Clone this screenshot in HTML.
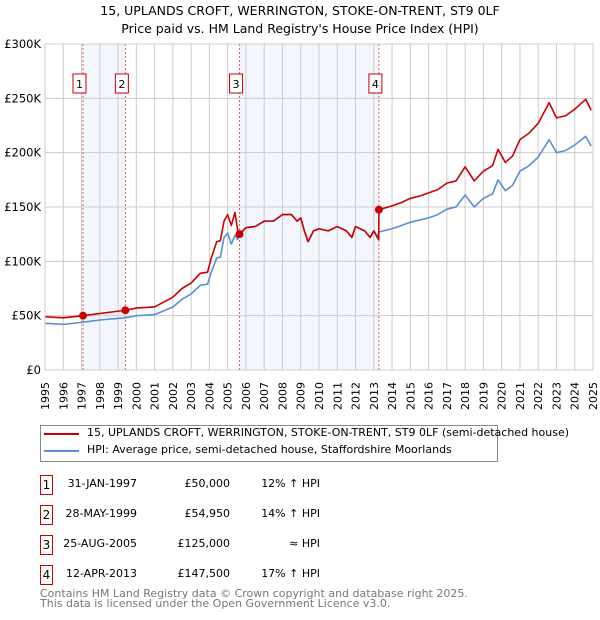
<!DOCTYPE html>
<html><head><meta charset="utf-8"><style>
body{margin:0;background:#fff;font-family:"DejaVu Sans","Liberation Sans",sans-serif;}
#wrap{position:relative;width:600px;height:620px;overflow:hidden;}
.t{position:absolute;font-size:12px;color:#000;white-space:nowrap;}
.box{position:absolute;width:11px;height:18px;border:1px solid #c00;font-size:12px;text-align:center;line-height:18px;}
</style></head><body><div id="wrap">
<div class="t" style="left:0;width:600px;text-align:center;top:2px;font-size:12.5px;line-height:18px">15, UPLANDS CROFT, WERRINGTON, STOKE-ON-TRENT, ST9 0LF<br>Price paid vs. HM Land Registry's House Price Index (HPI)</div>
<svg id="chart" width="600" height="415" style="position:absolute;left:0;top:0"></svg>
<div style="position:absolute;left:40px;top:425px;width:456px;height:35px;border:1px solid #888"></div>
<div style="position:absolute;left:44px;top:433px;width:35px;height:2px;background:#c00"></div>
<div class="t" style="left:87px;top:426px;font-size:11px">15, UPLANDS CROFT, WERRINGTON, STOKE-ON-TRENT, ST9 0LF (semi-detached house)</div>
<div style="position:absolute;left:44px;top:450px;width:35px;height:2px;background:#5b8fd6"></div>
<div class="t" style="left:87px;top:443px;font-size:11px">HPI: Average price, semi-detached house, Staffordshire Moorlands</div>
<div id="tbl"></div>
<div class="t" style="left:40px;top:589px;font-size:11px;color:#777;line-height:10px">Contains HM Land Registry data © Crown copyright and database right 2025.<br>This data is licensed under the Open Government Licence v3.0.</div>
</div>
<script>
const years=[1995,1996,1997.08,1998,1999.4,2000,2001,2002,2002.5,2003,2003.5,2003.9,2004.1,2004.4,2004.6,2004.8,2005.0,2005.2,2005.4,2005.55,2005.65,2006,2006.5,2007,2007.5,2008,2008.5,2008.8,2009,2009.2,2009.4,2009.7,2010,2010.5,2011,2011.5,2011.8,2012,2012.5,2012.8,2013,2013.2,2013.27,2013.28,2014,2014.5,2015,2015.5,2016,2016.5,2017,2017.5,2018,2018.5,2019,2019.5,2019.8,2020.2,2020.6,2021,2021.5,2022,2022.6,2023,2023.5,2024,2024.6,2024.9];
const hpiValues=[43,42,44,46,48,50,51,58,65,70,78,79,90,103,104,122,126,116,124,120,125,131,132,137,137,143,143,137,140,128,118,128,130,128,132,128,122,132,128,122,128,122,127,127,130,133,136,138,140,143,148,150,161,150,158,162,175,165,170,183,188,196,212,200,202,207,215,206];
const propValues=[49,48,50,52,55,57,58,67,75,80,89,90,103,118,119,137,143,133,145,128,125,131,132,137,137,143,143,137,140,128,118,128,130,128,132,128,122,132,128,122,128,122,120,147.5,151,154,158,160,163,166,172,174,187,174,183,188,203,191,197,212,218,227,246,232,234,240,249,239];
const saleYears=[1997.08,1999.4,2005.65,2013.28];
const saleValues=[50,54.95,125,147.5];
const yTicks=[0,50,100,150,200,250,300];
const yTickLabels=["£0","£50K","£100K","£150K","£200K","£250K","£300K"];
const xTicks=[1995,1996,1997,1998,1999,2000,2001,2002,2003,2004,2005,2006,2007,2008,2009,2010,2011,2012,2013,2014,2015,2016,2017,2018,2019,2020,2021,2022,2023,2024,2025];
const saleDates=["31-JAN-1997","28-MAY-1999","25-AUG-2005","12-APR-2013"];
const salePrices=["£50,000","£54,950","£125,000","£147,500"];
const saleHpi=["12% ↑ HPI","14% ↑ HPI","≈ HPI","17% ↑ HPI"];
const X0=45,X1=593,Y0=370,Y1=44;
const xs=y=>X0+(y-1995)/30*(X1-X0);
const ys=v=>Y0-v/300*(Y0-Y1);
const svg=document.getElementById('chart');const NS='http://www.w3.org/2000/svg';
function mk(tag,at){const e=document.createElementNS(NS,tag);for(const k in at)e.setAttribute(k,at[k]);svg.appendChild(e);return e;}
for(let i=0;i<saleYears.length;i+=2){const r=mk('rect',{x:xs(saleYears[i]),y:Y1,width:xs(saleYears[i+1])-xs(saleYears[i]),height:Y0-Y1,fill:'#f3f6fd'});

}
xTicks.forEach(t=>{const l=mk('line',{x1:xs(t),x2:xs(t),y1:Y1,y2:Y0,stroke:'#ccc'});


const tx=mk('text',{x:xs(t)+4,y:Y0+12,'text-anchor':'end','font-size':11,'font-family':'DejaVu Sans, sans-serif',transform:'rotate(-90 '+(xs(t)+4)+' '+(Y0+12)+')'});tx.textContent=t;

});
yTicks.forEach((t,i)=>{const l=mk('line',{x1:X0,x2:X1,y1:ys(t),y2:ys(t),stroke:'#ccc'});


const tx=mk('text',{x:X0-4,y:ys(t)+4,'text-anchor':'end','font-size':11.5,'font-family':'DejaVu Sans, sans-serif'});tx.textContent=yTickLabels[i];

});
saleYears.forEach((s,i)=>{const l=mk('line',{x1:xs(s),x2:xs(s),y1:Y1,y2:Y0,stroke:'#e55','stroke-dasharray':'2,2'});


const r=mk('rect',{x:xs(s)-10,y:74,width:13,height:19,fill:'#fff',stroke:'#c00'});


const tx=mk('text',{x:xs(s)-3.5,y:88,'text-anchor':'middle','font-size':11,'font-family':'DejaVu Sans, sans-serif'});tx.textContent=i+1;

});
const line=(vals,c)=>{const p=mk('polyline',{points:years.map((y,i)=>xs(y)+','+ys(vals[i])).join(' '),fill:'none',stroke:c,'stroke-width':1.6,'stroke-linejoin':'round'});return p;};
const hl=line(hpiValues,'#5b8fd6');


const pl=line(propValues,'#c00');


saleYears.forEach((s,i)=>{const c=mk('circle',{cx:xs(s),cy:ys(saleValues[i]),r:4,fill:'#c00'});

});
const bd=mk('rect',{x:X0,y:Y1,width:X1-X0,height:Y0-Y1,fill:'none',stroke:'#ccc'});


const tbl=document.getElementById('tbl');
saleDates.forEach((d,i)=>{const top=475+i*30;
const b=document.createElement('div');b.className='box';b.style.left='40px';b.style.top=top+'px';b.textContent=i+1;

tbl.appendChild(b);
[[d,137],[salePrices[i],230],[saleHpi[i],320]].forEach(([txt,r],j)=>{const e=document.createElement('div');e.className='t';e.style.right=(600-r)+'px';e.style.top=(top+2)+'px';e.style.fontSize='11px';e.textContent=txt;

tbl.appendChild(e);});});
</script></body></html>
